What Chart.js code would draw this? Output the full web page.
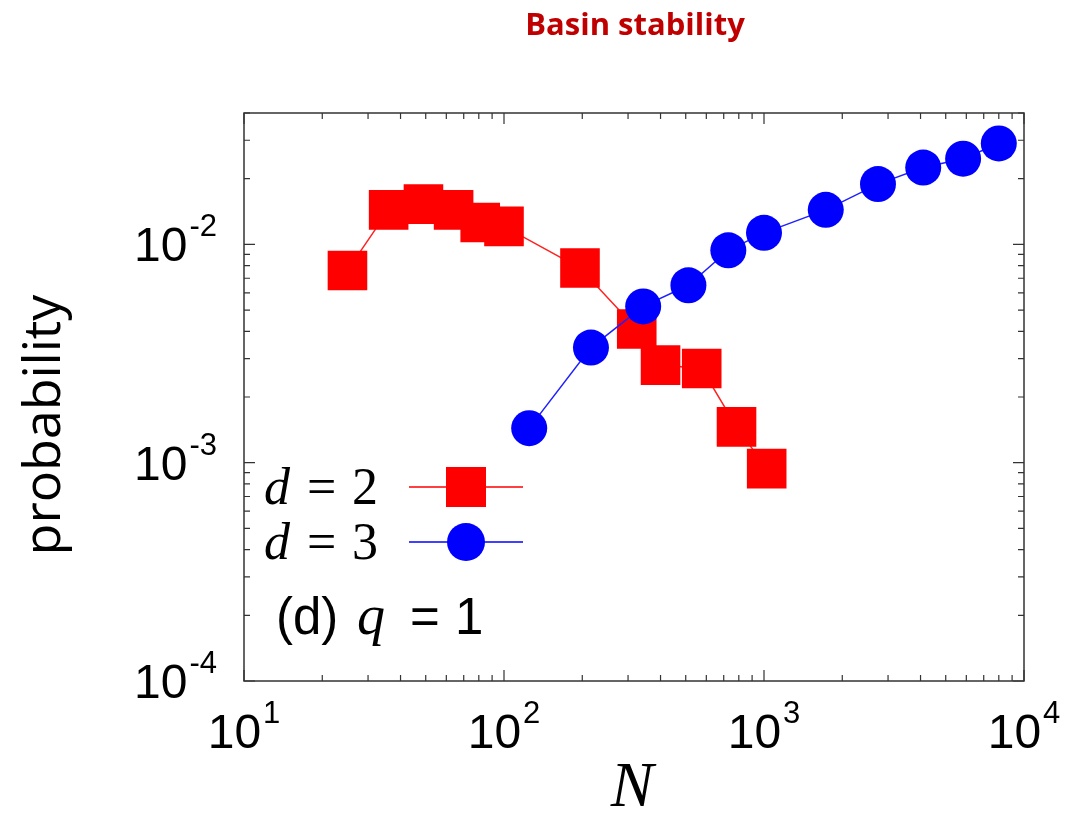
<!DOCTYPE html>
<html>
<head>
<meta charset="utf-8">
<script src="https://cdn.jsdelivr.net/npm/chart.js@4.4.0/dist/chart.umd.min.js"></script>
<style>
  html, body { margin: 0; padding: 0; background: #fff; }
</style>
</head>
<body>
<canvas id="grafico" width="1068" height="815"></canvas>
<script>
// tamanhos N = L^d e probabilidade medida
const tamanhoD2 = [25, 36, 49, 64, 81, 100, 196, 324, 400, 576, 784, 1024];
const probD2 = [0.0076, 0.0144, 0.0153, 0.0144, 0.0126, 0.0121, 0.0078, 0.0041, 0.0028, 0.0027, 0.00146, 0.00094];

const tamanhoD3 = [125, 216, 343, 512, 729, 1000, 1728, 2744, 4096, 5832, 8000];
const probD3 = [0.00144, 0.00337, 0.0052, 0.0065, 0.0094, 0.0113, 0.0144, 0.0189, 0.0225, 0.0247, 0.029];

// rotulos das decadas
const xDecadas = [10, 100, 1000, 10000];
const xExpoentes = ['1', '2', '3', '4'];
const yDecadas = [0.01, 0.001, 0.0001];
const yExpoentes = ['-2', '-3', '-4'];

function pontos(xs, ys) {
    return xs.map((x, i) => ({ x: x, y: ys[i] }));
}

// escreve 10^e com o expoente elevado; alinhamento 'right' ou 'center'
function potencia(ctx, x, base, exp, alinhar) {
    ctx.font = '48px "Liberation Sans"';
    const wDez = ctx.measureText('10').width;
    ctx.font = '31px "Liberation Sans"';
    const wExp = ctx.measureText(exp).width;
    const gap = 2;
    let x0 = alinhar === 'right' ? x - wDez - gap - wExp : x - (wDez + gap + wExp) / 2;
    ctx.textAlign = 'left';
    ctx.textBaseline = 'alphabetic';
    ctx.font = '48px "Liberation Sans"';
    ctx.fillText('10', x0, base);
    ctx.font = '31px "Liberation Sans"';
    ctx.fillText(exp, x0 + wDez + gap, base - 25);
}

const moldura = {
    id: 'moldura',
    afterDraw(chart) {
        const ctx = chart.ctx;
        const a = chart.chartArea;
        const sx = chart.scales.x;
        const sy = chart.scales.y;
        ctx.save();

        // caixa
        ctx.strokeStyle = '#333';
        ctx.lineWidth = 1.5;
        ctx.strokeRect(a.left, a.top, a.right - a.left, a.bottom - a.top);

        // marcas para dentro, nos quatro lados
        ctx.lineWidth = 1.2;
        ctx.beginPath();
        for (let e = 1; e <= 4; e++) {
            for (let m = 1; m <= 9; m++) {
                const v = m * Math.pow(10, e);
                if (v > 10000) break;
                const px = sx.getPixelForValue(v);
                const t = m === 1 ? 11 : 6;
                ctx.moveTo(px, a.bottom); ctx.lineTo(px, a.bottom - t);
                ctx.moveTo(px, a.top); ctx.lineTo(px, a.top + t);
            }
        }
        for (let e = -4; e <= -2; e++) {
            for (let m = 1; m <= 9; m++) {
                const v = m * Math.pow(10, e);
                if (v > 0.04) break;
                const py = sy.getPixelForValue(v);
                const t = m === 1 ? 11 : 6;
                ctx.moveTo(a.left, py); ctx.lineTo(a.left + t, py);
                ctx.moveTo(a.right, py); ctx.lineTo(a.right - t, py);
            }
        }
        ctx.stroke();

        // rotulos dos eixos
        ctx.fillStyle = '#000';
        xDecadas.forEach((v, i) => {
            potencia(ctx, sx.getPixelForValue(v), 748, xExpoentes[i], 'center');
        });
        yDecadas.forEach((v, i) => {
            potencia(ctx, 217, sy.getPixelForValue(v) + 17, yExpoentes[i], 'right');
        });

        // titulos
        ctx.textAlign = 'center';
        ctx.font = 'italic 64px "Liberation Serif"';
        ctx.fillText('N', 632, 806);

        ctx.save();
        ctx.translate(60, 425);
        ctx.rotate(-Math.PI / 2);
        ctx.font = '52px "Open Sans"';
        ctx.fillText('probability', 0, 0);
        ctx.restore();

        ctx.fillStyle = '#c00000';
        ctx.font = 'bold 31px "Open Sans"';
        ctx.fillText('Basin stability', 635, 35);

        // legenda
        const linhas = [
            { rot: '2', cor: '#ff0000', forma: 'rect', y: 487 },
            { rot: '3', cor: '#0000ff', forma: 'circle', y: 542 }
        ];
        ctx.textAlign = 'left';
        linhas.forEach(l => {
            ctx.fillStyle = '#000';
            ctx.font = 'italic 52px "Liberation Serif"';
            ctx.fillText('d', 264, l.y + 17);
            ctx.font = '52px "Liberation Serif"';
            ctx.fillText('=', 307, l.y + 17);
            ctx.fillText(l.rot, 352, l.y + 17);

            ctx.strokeStyle = l.cor;
            ctx.lineWidth = 1.5;
            ctx.beginPath();
            ctx.moveTo(409, l.y); ctx.lineTo(523, l.y);
            ctx.stroke();
            ctx.fillStyle = l.cor;
            if (l.forma === 'rect') {
                ctx.fillRect(466 - 20, l.y - 20, 40, 40);
            } else {
                ctx.beginPath();
                ctx.arc(466, l.y, 19, 0, Math.PI * 2);
                ctx.fill();
            }
        });

        ctx.fillStyle = '#000';
        ctx.font = '51px "Liberation Sans"';
        ctx.fillText('(d)', 276, 634);
        ctx.font = 'italic 56px "Liberation Serif"';
        ctx.fillText('q', 357, 634);
        ctx.font = '51px "Liberation Sans"';
        ctx.fillText('=', 410, 634);
        ctx.fillText('1', 455, 634);

        ctx.restore();
    }
};

const grafico = new Chart(document.getElementById('grafico').getContext('2d'), {
    type: 'scatter',
    data: {
        datasets: [{
            label: 'd = 2',
            data: pontos(tamanhoD2, probD2),
            showLine: true,
            borderColor: '#ff2020',
            borderWidth: 1.5,
            backgroundColor: '#ff0000',
            pointStyle: 'rect',
            pointRadius: 28,
            pointBorderWidth: 0,
            order: 2,
            clip: false
        }, {
            label: 'd = 3',
            data: pontos(tamanhoD3, probD3),
            showLine: true,
            borderColor: '#2020ff',
            borderWidth: 1.5,
            backgroundColor: '#0000ff',
            pointStyle: 'circle',
            pointRadius: 18,
            pointBorderWidth: 0,
            order: 1,
            clip: false
        }]
    },
    options: {
        responsive: false,
        animation: false,
        events: [],
        layout: {
            padding: { left: 244, right: 44, top: 113, bottom: 134 }
        },
        plugins: {
            legend: { display: false },
            title: { display: false },
            tooltip: { enabled: false }
        },
        scales: {
            x: { type: 'logarithmic', min: 10, max: 10000, display: false },
            y: { type: 'logarithmic', min: 0.0001, max: 0.04, display: false }
        }
    },
    plugins: [moldura]
});
</script>
</body>
</html>
